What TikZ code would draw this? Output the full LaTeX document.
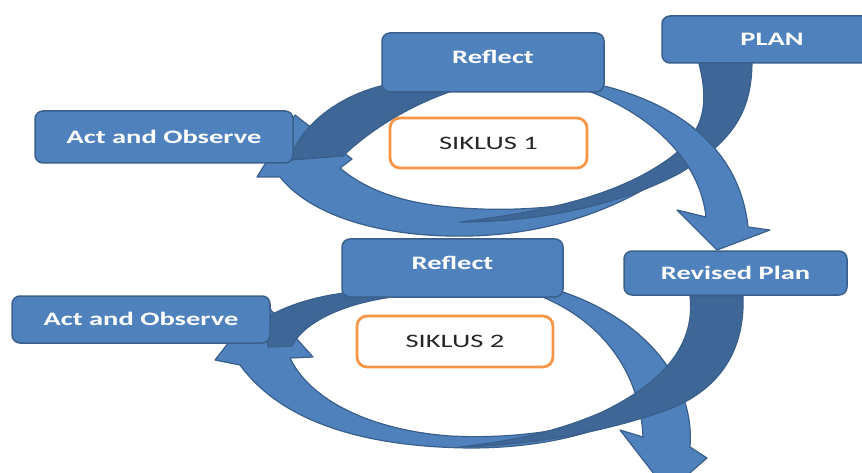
\documentclass[tikz,border=0pt]{standalone}
\usepackage{fontspec}
\setmainfont{Carlito}
\usepackage{graphicx}
\definecolor{boxblue}{HTML}{4F81BD}
\definecolor{boxline}{HTML}{3A5F8B}
\definecolor{bandcol}{HTML}{3E6798}
\definecolor{orangeline}{HTML}{F79646}
\definecolor{txtdark}{HTML}{262626}
\newcommand\widetxt[1]{\scalebox{1.5}[1]{#1}}
\begin{document}
\begin{tikzpicture}[x=1pt,y=-1pt,
  bluebox/.style={draw=boxline, line width=1.5pt, fill=boxblue, rounded corners=8pt, inner sep=0pt,
    text=white, font=\fontsize{19}{22}\selectfont\bfseries, text height=12.2pt, text depth=0pt},
  cyclebox/.style={draw=orangeline, line width=2.8pt, fill=white, rounded corners=10pt, inner sep=0pt,
    text=txtdark, font=\fontsize{19}{22}\selectfont, text height=12.2pt, text depth=0pt},
  lightband/.style={fill=boxblue, draw=boxline, line width=1.2pt, line join=round},
  darkband/.style={fill=bandcol, draw=boxline, line width=1.2pt, line join=round}]
\useasboundingbox (0,0) rectangle (862,473);

% ---- cycle 1 ----
\draw[lightband] (280,177) .. controls (310,215) and (380,238) .. (470,236)
  .. controls (550,234) and (610,210) .. (655,183)
  .. controls (600,205) and (520,215) .. (440,206)
  .. controls (390,200) and (360,185) .. (340,168)
  -- (352,159) -- (295,115) -- (257,177) -- cycle;
\draw[darkband] (385,85) .. controls (340,95) and (300,125) .. (290,160)
  -- (343,156) .. controls (370,130) and (410,105) .. (455,90) -- cycle;
\draw[darkband] (698,60) .. controls (712,110) and (700,135) .. (670,158)
  .. controls (615,198) and (540,212) .. (460,222)
  .. controls (540,222) and (620,205) .. (680,173)
  .. controls (735,140) and (752,110) .. (752,60) -- cycle;
\draw[lightband] (580,88) .. controls (650,112) and (700,160) .. (706,217)
  -- (677,210) -- (717,250) -- (770,230) -- (748,227)
  .. controls (740,150) and (680,105) .. (604,86) -- cycle;

% ---- cycle 2 ----
\draw[lightband] (240,365) .. controls (280,420) and (360,447) .. (470,448)
  .. controls (560,448) and (620,425) .. (665,398)
  .. controls (600,425) and (530,440) .. (450,436)
  .. controls (370,430) and (310,400) .. (290,358)
  -- (313,357) -- (262,300) -- (215,360) -- cycle;
\draw[darkband] (352,292) .. controls (315,296) and (285,306) .. (266,318)
  -- (268,347) -- (292,346) .. controls (305,320) and (350,300) .. (410,295) -- cycle;
\draw[lightband] (540,296) .. controls (600,320) and (640,370) .. (643,437)
  -- (620,430) -- (668,492) -- (707,458) -- (690,447)
  .. controls (695,385) and (650,322) .. (563,292) -- cycle;
\draw[darkband] (690,296) .. controls (695,340) and (670,380) .. (600,413)
  .. controls (560,430) and (520,440) .. (460,447)
  .. controls (540,445) and (610,430) .. (667,410)
  .. controls (720,390) and (745,350) .. (743,296) -- cycle;

% ---- boxes ----
\node[bluebox, minimum width=222pt, minimum height=59pt, text depth=11pt] (reflA) at (493,62.5) {\widetxt{Reflect}};
\node[bluebox, minimum width=220pt, minimum height=47pt] (plan) at (772,39.5) {\widetxt{PLAN}};
\node[bluebox, minimum width=258pt, minimum height=52pt] (actA) at (164,137) {\widetxt{Act and Observe}};
\node[cyclebox, minimum width=197pt, minimum height=50pt] (sikA) at (488.5,143) {\widetxt{SIKLUS 1}};
\node[bluebox, minimum width=223pt, minimum height=44pt] (revplan) at (735.5,273) {\widetxt{Revised Plan}};
\node[bluebox, minimum width=221pt, minimum height=58pt, text depth=10pt] (reflB) at (452.5,268) {\widetxt{Reflect}};
\node[bluebox, minimum width=258pt, minimum height=47pt] (actB) at (141,319.5) {\widetxt{Act and Observe}};
\node[cyclebox, minimum width=196pt, minimum height=51pt] (sikB) at (455,341.5) {\widetxt{SIKLUS 2}};
\end{tikzpicture}
\end{document}
